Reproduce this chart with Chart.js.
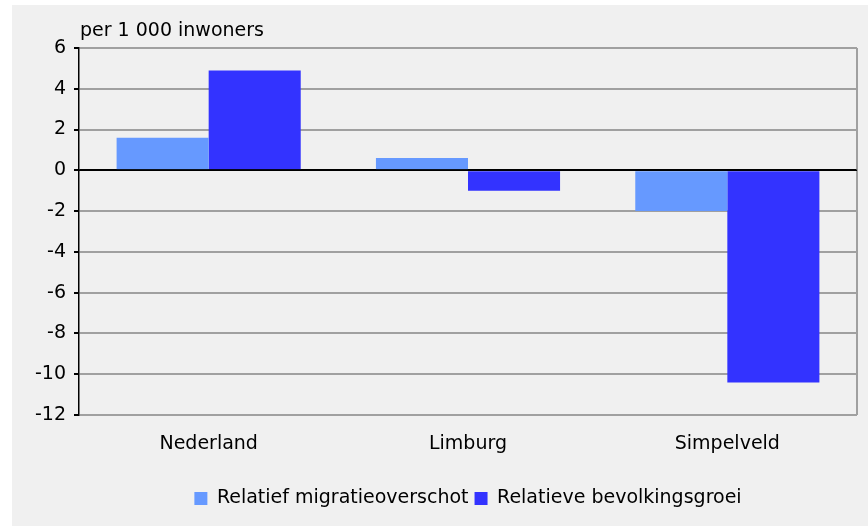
<!DOCTYPE html>
<html>
<head>
<meta charset="utf-8">
<script src="https://cdn.jsdelivr.net/npm/chart.js@4"></script>
<style>
  html, body { margin: 0; padding: 0; background: #fff; }
  #wrap { width: 868px; height: 526px; position: relative; }
</style>
</head>
<body>
<div id="wrap"><canvas id="c" width="868" height="526"></canvas></div>
<script>
var regions = ['Nederland', 'Limburg', 'Simpelveld'];
var migratie = [1.6, 0.6, -2.0];
var groei = [4.9, -1.0, -10.4];
var yTicks = [6, 4, 2, 0, -2, -4, -6, -8, -10, -12];
var unitLabel = 'per 1 000 inwoners';

var FONT = '"DejaVu Sans", Arial, sans-serif';
var FS = 19;

var panel = {
  id: 'panel',
  afterLayout: function (chart) {
    // centre the legend under the plot area
    var a = chart.chartArea;
    chart.legend.left = a.left;
    chart.legend.right = a.right;
  },
  beforeDraw: function (chart) {
    var ctx = chart.ctx;
    ctx.save();
    ctx.fillStyle = '#f0f0f0';
    ctx.fillRect(12, 5, chart.width - 12, chart.height - 5);
    ctx.restore();
  },
  afterDatasetsDraw: function (chart) {
    var ctx = chart.ctx, a = chart.chartArea;
    ctx.save();
    // right border
    ctx.strokeStyle = '#a0a0a0';
    ctx.lineWidth = 2;
    ctx.beginPath();
    ctx.moveTo(a.right, a.top);
    ctx.lineTo(a.right, a.bottom);
    ctx.stroke();
    // zero line over bars
    var y0 = chart.scales.y.getPixelForValue(0);
    ctx.strokeStyle = '#000';
    ctx.lineWidth = 1.5;
    ctx.beginPath();
    ctx.moveTo(a.left, y0);
    ctx.lineTo(a.right, y0);
    ctx.stroke();
    // unit label
    ctx.fillStyle = '#000';
    ctx.font = FS + 'px ' + FONT;
    ctx.textBaseline = 'middle';
    ctx.fillText(unitLabel, 80, 31);
    ctx.restore();
  }
};

new Chart(document.getElementById('c'), {
  type: 'bar',
  data: {
    labels: regions,
    datasets: [{
      label: 'Relatief migratieoverschot',
      data: migratie,
      backgroundColor: '#6699ff',
      borderWidth: 0
    }, {
      label: 'Relatieve bevolkingsgroei',
      data: groei,
      backgroundColor: '#3333ff',
      borderWidth: 0
    }]
  },
  options: {
    responsive: false,
    animation: false,
    layout: { padding: { left: 0, right: 11, top: 48, bottom: 8 } },
    datasets: { bar: { categoryPercentage: 0.71, barPercentage: 1 } },
    plugins: {
      tooltip: { enabled: false },
      legend: {
        position: 'bottom',
        labels: {
          color: '#000',
          font: { family: FONT, size: FS },
          boxWidth: 13,
          boxHeight: 13,
          padding: 6
        }
      }
    },
    scales: {
      x: {
        grid: { display: false },
        border: { display: false },
        ticks: { color: '#000', font: { family: FONT, size: FS }, padding: 10 },
        afterFit: function (s) { s.height = 68; }
      },
      y: {
        min: -12,
        max: 6,
        afterBuildTicks: function (s) {
          s.ticks = yTicks.map(function (v) { return { value: v }; });
        },
        grid: {
          color: function (c) { return c.tick && c.tick.value === 0 ? '#000' : '#a0a0a0'; },
          lineWidth: 2,
          tickColor: '#000',
          tickLength: 5
        },
        border: { color: '#000', width: 1.5 },
        ticks: { color: '#000', font: { family: FONT, size: FS }, padding: 8 },
        afterFit: function (s) { s.width = 79; }
      }
    }
  },
  plugins: [panel]
});
</script>
</body>
</html>
